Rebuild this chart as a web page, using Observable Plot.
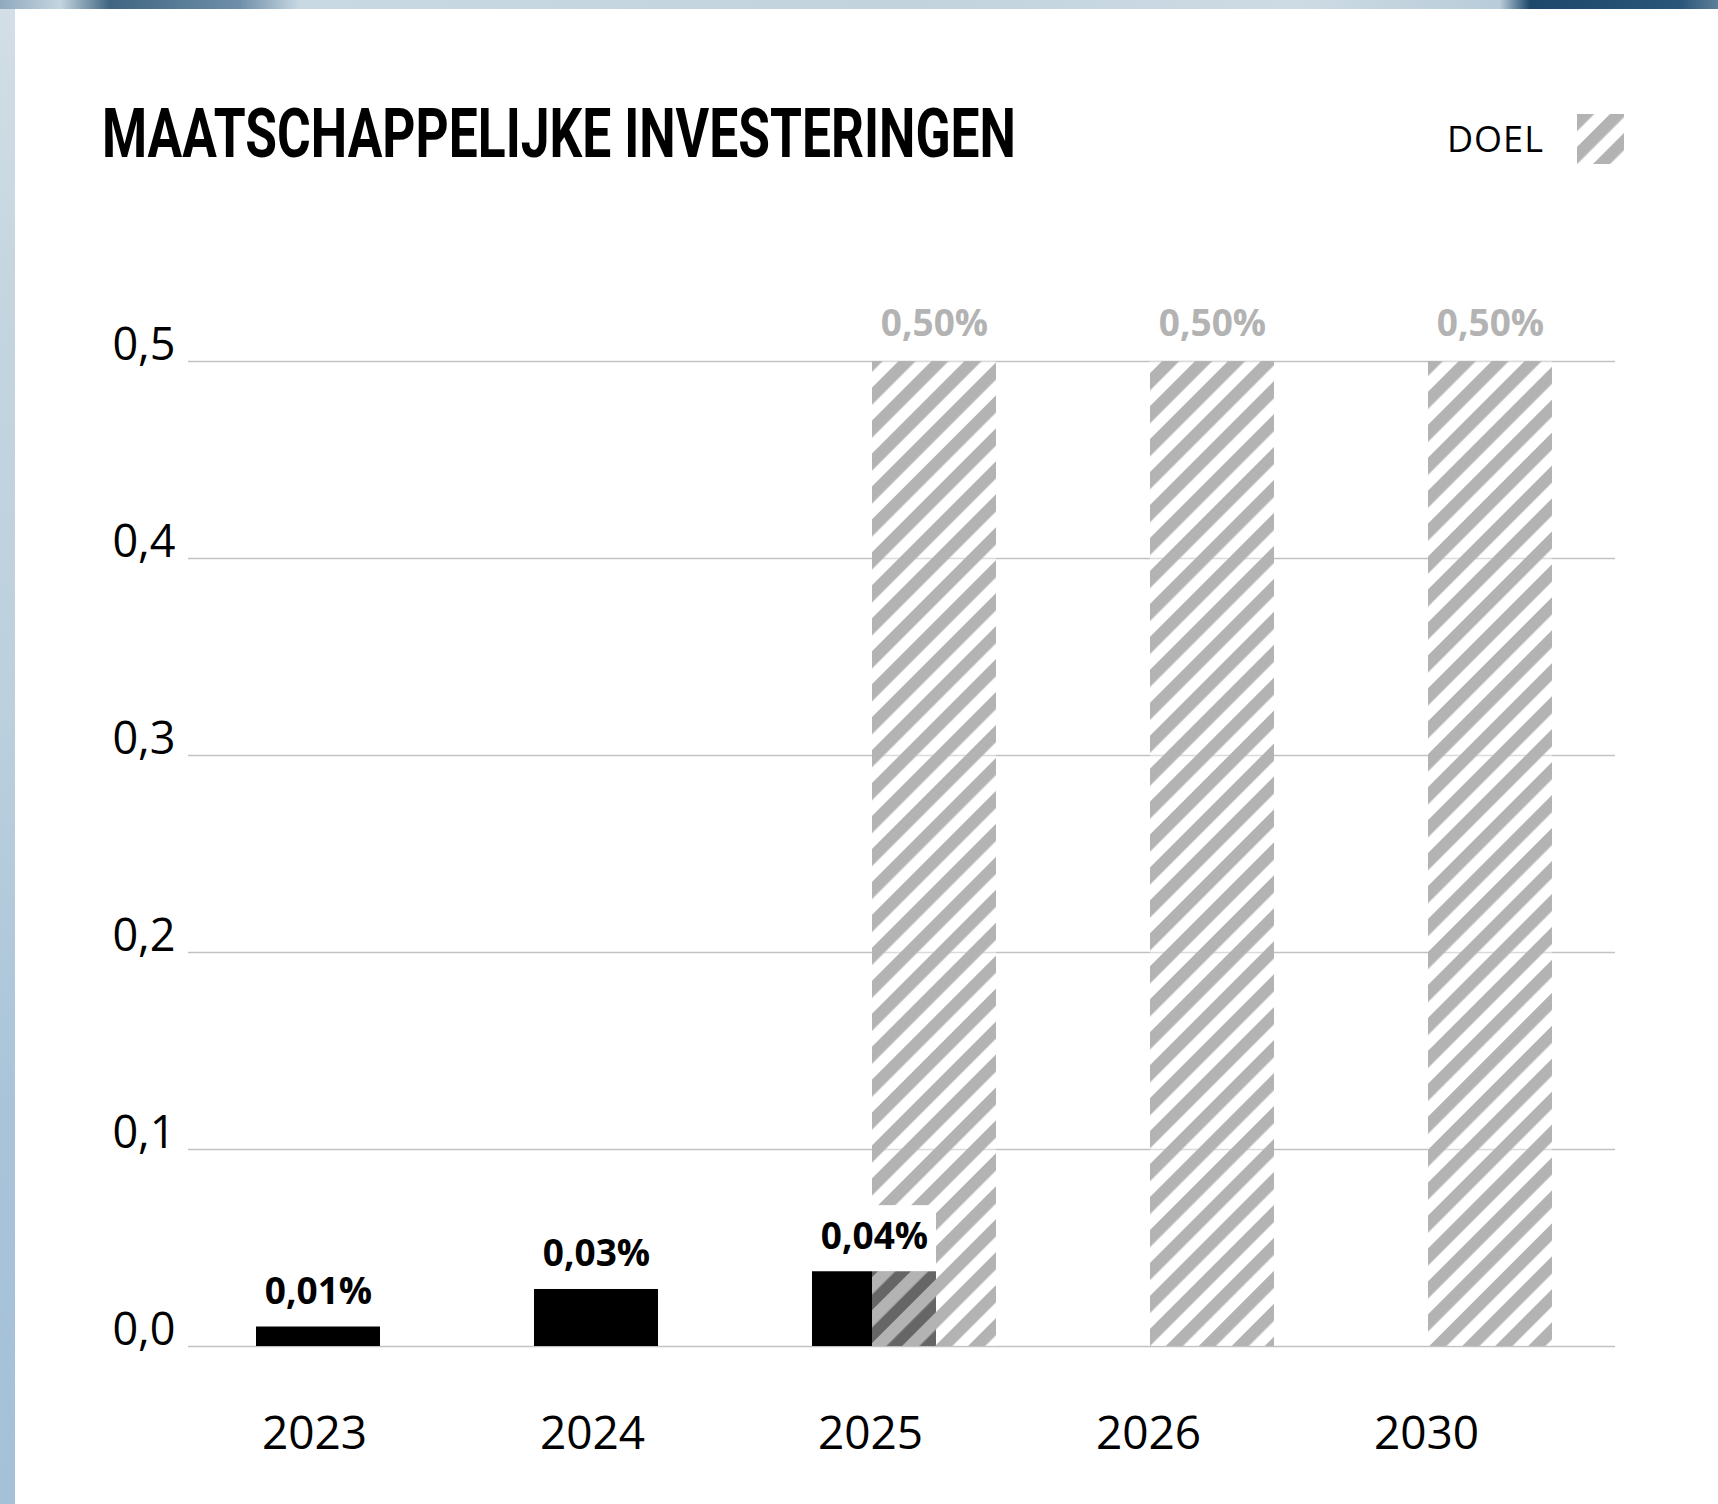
<!DOCTYPE html>
<html>
<head>
<meta charset="utf-8">
<script src="https://cdn.jsdelivr.net/npm/d3@7"></script>
<script src="https://cdn.jsdelivr.net/npm/@observablehq/plot@0.6"></script>
<style>
  html, body { margin: 0; padding: 0; }
  body {
    width: 1718px; height: 1504px; overflow: hidden; position: relative;
    background:
      linear-gradient(90deg, #8fa9bf 0px, #c4d5df 60px, #3f6582 110px, #6f8fa9 240px, #c9d9e3 300px, #c2d3de 900px, #cddbe4 1300px, #b8ccd9 1500px, #1d476b 1530px, #2a5679 1680px, #5e7f99 1718px);
  }
  #leftstrip {
    position: absolute; left: 0; top: 9px; width: 15px; height: 1495px;
    background: linear-gradient(180deg, #d3dee6 0px, #c4d5df 300px, #bcd0dd 700px, #a9c4d9 1100px, #a5c1d8 1504px);
  }
  #card { position: absolute; left: 15px; top: 9px; right: 0; bottom: 0; background: #ffffff; }
  #title {
    position: absolute; left: 102px; top: 100px;
    font-family: Roboto, "DejaVu Sans", sans-serif; font-weight: 700; font-size: 68px;
    line-height: 68px; color: #000; white-space: nowrap; transform-origin: 0 0;
  }
  #legend-label {
    position: absolute; left: 1447px; top: 121px;
    font-family: "Open Sans", "Noto Sans", sans-serif; font-size: 36px; line-height: 36px; color: #000;
    letter-spacing: 1px;
  }
  #legend-swatch { position: absolute; left: 1577px; top: 114px; }
  #chart { position: absolute; left: 0; top: 240px; }
  #chart svg { font-family: "Open Sans", "Noto Sans", sans-serif; }
</style>
</head>
<body>
<div id="leftstrip"></div>
<div id="card"></div>
<div id="title">MAATSCHAPPELIJKE INVESTERINGEN</div>
<div id="legend-label">DOEL</div>
<svg id="legend-swatch" width="47" height="50">
  <defs>
    <pattern id="hatch" patternUnits="userSpaceOnUse" width="23.3" height="23.3" patternTransform="rotate(45)">
      <rect width="23.3" height="23.3" fill="#ffffff" fill-opacity="0.4"></rect>
      <rect width="12.2" height="23.3" fill="#b3b3b3"></rect>
    </pattern>
  </defs>
  <rect width="47" height="50" fill="url(#hatch)"></rect>
</svg>
<div id="chart"></div>
<script>
// ---- data ----
const years = ["2023", "2024", "2025", "2026", "2030"];
const actualYears = ["2023", "2024", "2025"];
const actualValues = [0.01, 0.029, 0.038];
const goalYears = ["2025", "2026", "2030"];
const goalValues = [0.5, 0.5, 0.5];
const yTicks = [0, 0.1, 0.2, 0.3, 0.4, 0.5];

const actual = actualYears.map((year, i) => ({year, value: actualValues[i]}));
const goal = goalYears.map((year, i) => ({year, value: goalValues[i]}));
const pct = d => d.value.toFixed(2).replace(".", ",") + "%";

// title: condense to the reference width
const title = document.getElementById("title");
const tw = title.getBoundingClientRect().width;
title.style.transform = `scaleX(${914 / tw})`;

const chart = Plot.plot({
  width: 1718,
  height: 1264,
  marginLeft: 188,
  marginRight: 103,
  marginTop: 121,
  marginBottom: 158,
  style: {background: "transparent", overflow: "visible"},
  x: {type: "band", domain: years, range: [173.75, 1566.25], paddingInner: 0.555, paddingOuter: 0.2775, align: 0.5, axis: null},
  y: {domain: [0, 0.5], axis: null},
  marks: [
    Plot.ruleY(yTicks, {stroke: "#c2c2c2", strokeWidth: 1.6}),
    Plot.barY(actual, {x: "year", y: "value", fill: "#000000", dx: 4}),
    Plot.barY(goal, {x: "year", y: "value", fill: "url(#hatch)", dx: 64}),
    Plot.barY(actual, {x: "year", y1: "value", y2: "value", fill: "#ffffff", insetTop: -66, dx: 4}),
    Plot.text(actual, {x: "year", y: "value", text: pct, dx: 4, dy: -23, lineAnchor: "bottom", fontWeight: 700, fontSize: 37, fill: "#000000"}),
    Plot.text(goal, {x: "year", y: "value", text: pct, dx: 64, dy: -26, lineAnchor: "bottom", fontWeight: 700, fontSize: 37, fill: "#b3b3b3"}),
    Plot.axisY({ticks: yTicks, tickFormat: d => d.toFixed(1).replace(".", ","), tickSize: 0, tickPadding: 13, fontSize: 45, dy: -16, fill: "#000000", label: null}),
    Plot.axisX({tickSize: 0, tickPadding: 70, fontSize: 46, fill: "#000000", label: null})
  ]
});
document.getElementById("chart").appendChild(chart);
</script>
</body>
</html>
